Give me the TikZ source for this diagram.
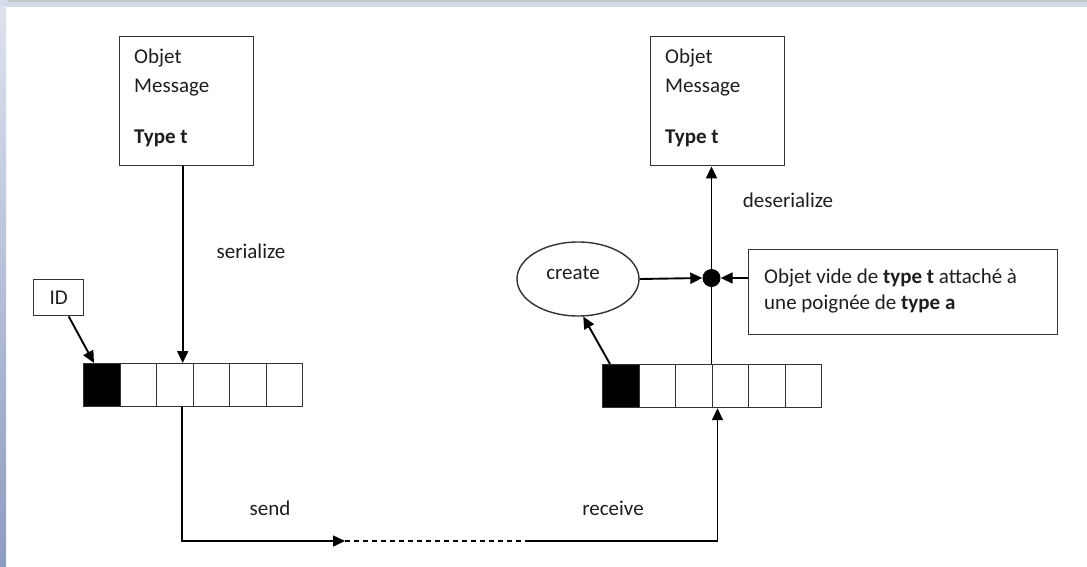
\documentclass[tikz,border=0pt]{standalone}
\usepackage{fontspec}
\setmainfont{Carlito}
\usetikzlibrary{arrows.meta,shapes.geometric}
\definecolor{edge}{HTML}{333333}
\definecolor{txtc}{HTML}{1E1E1E}
\definecolor{barblue}{HTML}{D3DAE8}
\definecolor{bargray}{HTML}{C4C6CA}
\definecolor{stripbot}{HTML}{8E9CC0}
\definecolor{striptop}{HTML}{DDE2EE}
\begin{document}
\begin{tikzpicture}[x=1pt,y=-1pt,
  box/.style={draw=edge,line width=1.4pt,rectangle,inner sep=0pt,fill=white},
  cell/.style={draw=edge,line width=1.2pt,minimum width=36.5pt,minimum height=43pt,inner sep=0pt,anchor=north west},
  tip/.style={-{Triangle[length=12pt,width=11pt]}},
  arr/.style={line width=1.9pt,tip},
  link/.style={line width=1.5pt},
  txt/.style={font=\fontsize{21}{25}\selectfont,text=txtc,inner sep=0pt},
]
\useasboundingbox (0,0) rectangle (1087,567);
% window frame
\fill[white] (0,0) rectangle (1087,567);
\fill[barblue] (0,0) rectangle (1087,7);
\fill[bargray] (8,0) rectangle (1087,2.5);
\shade[top color=striptop,bottom color=stripbot] (0,7) rectangle (6,567);

% message boxes
\node[box,minimum width=134pt,minimum height=129pt,anchor=north west] (lbox) at (119,36) {};
\node[txt,anchor=base west] (lt1) at (134,64) {Objet};
\node[txt,anchor=base west] (lt2) at (134,93) {Message};
\node[txt,anchor=base west] (lt3) at (134,143) {\textbf{Type t}};

\node[box,minimum width=134pt,minimum height=129pt,anchor=north west] (rbox) at (650,36) {};
\node[txt,anchor=base west] (rt1) at (665,64) {Objet};
\node[txt,anchor=base west] (rt2) at (665,93) {Message};
\node[txt,anchor=base west] (rt3) at (665,143) {\textbf{Type t}};

% ID box
\node[box,txt,draw=edge,minimum width=50pt,minimum height=36pt,anchor=north west] (idb) at (33,279) {ID};

% arrays
\foreach \i in {1,...,6}{
  \node[cell,fill=white] (L\i) at ({83+36.5*(\i-1)},363) {};
  \node[cell,fill=white] (R\i) at ({602+36.5*(\i-1)},364) {};
}
\node[cell,fill=black] (L1b) at (83,363) {};
\node[cell,fill=black] (R1b) at (602,364) {};

% create ellipse
\node[ellipse,draw=edge,line width=1.4pt,fill=white,minimum width=122pt,minimum height=74pt,inner sep=0pt] (cre) at (578,279) {};
\node[txt] (cret) at (573,273) {create};

% info box
\node[box,minimum width=309pt,minimum height=85pt,anchor=north west] (info) at (748,249) {};
\node[txt,anchor=base west] (in1) at (764,283) {Objet vide de \textbf{type t} attaché à};
\node[txt,anchor=base west] (in2) at (764,309) {une poignée de \textbf{type a}};

% junction dot
\node[circle,fill=black,minimum size=18pt,inner sep=0pt] (dot) at (711.5,278) {};

% labels
\node[txt] (ser) at (251,251) {serialize};
\node[txt] (snd) at (270,508) {send};
\node[txt] (rcv) at (613,508) {receive};
\node[txt] (des) at (788,200) {deserialize};

% connectors
\draw[arr] ([xshift=-4pt]lbox.south) -- ([xshift=-4pt]lbox.south |- L3.north);
\draw[arr] ([xshift=10pt]idb.south) -- ([xshift=11pt]L1b.north west);
\draw[line width=1.9pt] (R4.north west) -- (dot.center);
\draw[arr] (dot.center) -- (rbox.south -| R4.north west);
\draw[arr] (cre.east) -- (dot.west);
\draw[arr] (info.west |- dot) -- (dot.east);
\draw[arr] ([xshift=8pt]R1b.north west) -- (cre.-82);

\coordinate (s0) at ([xshift=26pt]L3.south west);
\coordinate (st) at (345,541);
\coordinate (dc) at (525,541);
\draw[link,tip] (s0) |- (st);
\draw[line width=1.2pt,dash pattern=on 5pt off 4pt] (st) -- (dc);
\draw[link,tip] (dc) -| ([xshift=6pt]R4.south west);
\end{tikzpicture}
\end{document}
